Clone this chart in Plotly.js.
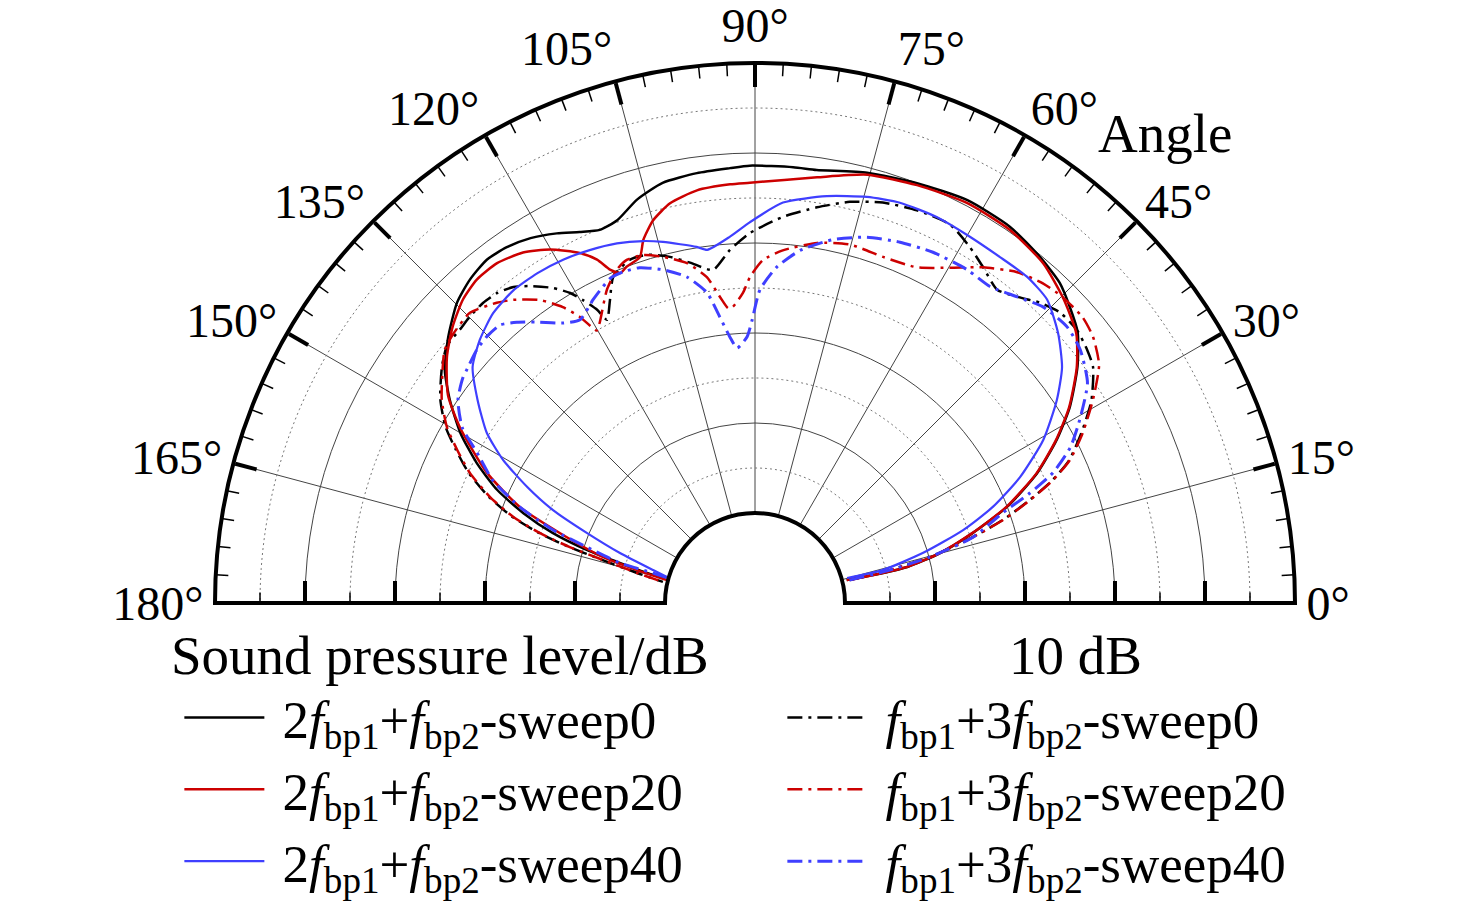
<!DOCTYPE html>
<html>
<head>
<meta charset="utf-8">
<script src="https://cdn.plot.ly/plotly-3.0.1.min.js"></script>
<style>
  html, body { margin: 0; padding: 0; background: #fff; }
  #chart { width: 1476px; height: 906px; }
</style>
</head>
<body>
<div id="chart"></div>
<script>
// directivity curves: theta in degrees, r in dB above the inner circle
const thetaSolid0 = [14.0, 13.3, 13.3, 15.1, 17.8, 20.9, 24.7, 28.4, 31.9, 36.2, 40.0, 43.2, 46.4, 50.5, 55.9, 62.2, 68.9, 75.4, 81.9, 85.0, 90.7, 93.3, 97.7, 102.4, 106.3, 109.8, 112.6, 115.3, 118.2, 121.6, 124.9, 128.0, 131.4, 134.8, 139.1, 143.1, 146.4, 150.0, 153.3, 156.3, 158.8, 160.9, 162.5, 163.5, 164.6, 164.5];
const rSolid0 = [0.5, 3.5, 7.4, 11.3, 15.4, 20.0, 24.5, 28.1, 31.2, 34.4, 36.8, 38.0, 39.1, 39.8, 40.5, 40.6, 40.0, 39.4, 38.6, 38.6, 38.6, 38.4, 38.2, 37.8, 36.7, 35.2, 34.9, 35.6, 36.6, 37.6, 38.2, 38.4, 37.9, 37.0, 35.1, 33.1, 30.7, 27.8, 24.6, 21.3, 17.6, 13.8, 9.6, 5.6, 1.8, 0.4];

const thetaSolid20 = [14.0, 13.3, 13.3, 15.1, 17.8, 20.9, 24.7, 28.4, 31.9, 36.2, 40.0, 44.8, 49.7, 55.6, 62.1, 68.8, 75.3, 81.7, 90.7, 93.4, 98.0, 102.0, 104.9, 107.1, 108.4, 110.9, 112.2, 113.5, 114.7, 116.6, 120.1, 123.5, 127.2, 130.7, 133.9, 137.6, 141.4, 145.9, 149.2, 154.1, 157.8, 160.3, 163.2, 164.4, 165.4];
const rSolid20 = [0.5, 3.4, 7.3, 11.2, 15.3, 19.9, 24.4, 28.0, 31.1, 34.3, 36.6, 38.2, 39.5, 40.2, 40.3, 39.8, 39.2, 37.8, 36.7, 36.6, 36.3, 35.4, 34.0, 32.2, 30.5, 30.0, 29.6, 30.4, 32.0, 33.5, 35.4, 36.7, 37.4, 37.4, 36.8, 35.5, 33.8, 31.2, 28.2, 23.1, 18.2, 13.0, 7.6, 3.6, 0.1];

const thetaSolid40 = [15.2, 14.5, 16.6, 19.3, 22.0, 25.4, 29.5, 33.9, 37.5, 41.7, 46.1, 50.2, 54.7, 60.1, 64.8, 70.1, 74.6, 80.0, 86.0, 90.8, 93.9, 97.7, 99.3, 104.3, 107.2, 111.0, 115.1, 119.2, 123.4, 127.7, 132.1, 136.3, 140.1, 143.8, 147.6, 150.4, 153.0, 155.3, 157.4, 159.7, 162.1, 163.5];
const rSolid40 = [0.6, 4.7, 9.5, 14.5, 18.5, 22.6, 26.8, 30.4, 33.0, 35.1, 36.8, 37.2, 37.1, 37.2, 37.4, 37.3, 36.8, 35.9, 34.6, 32.3, 30.8, 29.6, 30.1, 31.4, 32.1, 32.8, 33.3, 33.7, 33.9, 33.9, 33.4, 32.3, 30.9, 28.2, 25.3, 22.2, 18.4, 14.7, 10.2, 6.0, 1.9, 0.2];

const thetaDash0 = [13.6, 13.7, 14.7, 16.5, 18.5, 20.5, 22.4, 24.4, 27.4, 31.0, 34.9, 37.3, 40.3, 43.6, 46.5, 49.4, 52.3, 55.8, 58.9, 62.7, 67.6, 72.3, 76.7, 81.1, 85.9, 90.8, 94.1, 97.2, 100.8, 103.8, 107.2, 110.0, 113.5, 115.6, 117.6, 118.3, 119.6, 120.8, 122.7, 125.4, 127.4, 129.8, 132.2, 134.9, 137.2, 140.1, 142.9, 147.0, 150.3, 152.8, 155.5, 158.2, 160.4, 162.0, 163.2, 164.2, 165.7, 167.1];
const rDash0 = [0.8, 5.3, 10.0, 14.5, 19.0, 22.5, 25.7, 28.3, 30.8, 33.6, 35.8, 36.4, 36.9, 36.8, 36.0, 34.8, 34.0, 35.1, 36.2, 37.3, 37.2, 36.7, 35.8, 34.5, 33.0, 31.1, 29.3, 27.3, 28.5, 29.6, 30.5, 30.6, 29.5, 27.3, 25.5, 27.0, 28.7, 30.1, 31.6, 33.2, 34.2, 34.8, 35.0, 34.9, 34.7, 34.6, 33.6, 31.7, 29.6, 27.4, 25.0, 21.9, 18.7, 15.3, 11.7, 7.8, 3.6, 0.5];

const thetaDash20 = [13.6, 13.7, 14.7, 16.5, 18.5, 20.5, 22.4, 24.4, 27.4, 31.0, 34.7, 38.2, 41.1, 44.8, 48.0, 51.6, 55.8, 59.8, 64.3, 69.7, 75.1, 80.2, 85.5, 88.7, 90.9, 92.2, 94.3, 95.2, 96.5, 98.4, 101.3, 104.9, 107.8, 110.5, 112.5, 115.3, 119.0, 120.1, 121.5, 123.0, 125.4, 128.6, 130.7, 134.5, 138.5, 140.8, 142.9, 147.0, 150.3, 152.8, 155.5, 158.2, 160.4, 162.0, 163.2, 164.2, 165.7, 167.1];
const rDash20 = [0.9, 5.4, 10.1, 14.6, 19.1, 22.6, 25.8, 28.4, 31.0, 33.8, 36.5, 37.8, 38.3, 38.2, 37.8, 36.9, 35.1, 33.1, 31.4, 31.0, 31.2, 30.6, 29.3, 28.1, 26.2, 24.5, 23.0, 22.9, 24.2, 26.6, 28.5, 29.8, 30.6, 30.7, 30.1, 28.5, 25.6, 25.0, 27.3, 29.2, 31.3, 33.1, 34.0, 35.2, 34.9, 34.5, 33.5, 31.5, 29.4, 27.2, 24.8, 21.7, 18.5, 15.1, 11.5, 7.6, 3.5, 0.5];

const thetaDash40 = [13.6, 13.7, 14.7, 16.8, 20.0, 21.8, 23.6, 26.3, 29.4, 33.5, 37.9, 41.5, 45.8, 49.4, 53.4, 57.5, 63.1, 68.1, 73.0, 77.9, 82.7, 86.3, 89.1, 90.6, 91.7, 94.0, 95.4, 97.0, 98.8, 101.8, 105.4, 109.0, 111.7, 114.0, 116.3, 118.1, 121.7, 124.4, 127.8, 130.3, 132.5, 135.2, 137.7, 141.0, 142.3, 145.6, 149.1, 151.6, 154.9, 157.8, 160.1, 161.6, 163.5, 163.6, 164.0];
const rDash40 = [0.8, 5.3, 10.0, 15.3, 19.3, 22.9, 26.1, 29.1, 31.4, 34.3, 35.8, 36.3, 35.9, 34.8, 33.8, 33.9, 33.7, 33.2, 32.5, 31.3, 29.5, 27.4, 24.8, 21.4, 19.6, 18.4, 19.7, 22.0, 24.9, 27.0, 28.4, 29.4, 29.6, 29.5, 28.8, 28.2, 27.0, 27.7, 29.5, 30.9, 31.9, 32.0, 31.8, 31.2, 31.0, 30.0, 27.9, 25.1, 22.2, 18.2, 13.9, 9.7, 5.6, 1.8, 0.2];

const seriesNames = [
  '2<i>f</i><sub>bp1</sub>+<i>f</i><sub>bp2</sub>-sweep0',
  '<i>f</i><sub>bp1</sub>+3<i>f</i><sub>bp2</sub>-sweep0',
  '2<i>f</i><sub>bp1</sub>+<i>f</i><sub>bp2</sub>-sweep20',
  '<i>f</i><sub>bp1</sub>+3<i>f</i><sub>bp2</sub>-sweep20',
  '2<i>f</i><sub>bp1</sub>+<i>f</i><sub>bp2</sub>-sweep40',
  '<i>f</i><sub>bp1</sub>+3<i>f</i><sub>bp2</sub>-sweep40'
];

const majorRadii = [10, 20, 30, 40];
const minorRadii = [5, 15, 25, 35, 45];

const FONT = 'Liberation Serif, Times New Roman, serif';
const FS = 53;
const BLACK = '#000000', RED = '#cc0000', BLUE = '#3f3fff';
const DASHDOT = '15px,6px,3px,6px';

// dotted half circles between the solid grid circles
let gridTheta = [], gridR = [];
minorRadii.forEach((rv) => {
    for (let a = 0; a <= 180; a += 1) {
        gridTheta.push(a);
        gridR.push(rv);
    }
    gridTheta.push(null);
    gridR.push(null);
});

// small ticks on the outer rim every 3 degrees
let rimTheta = [], rimR = [];
for (let a = 3; a < 180; a += 3) {
    if (a % 15 === 0) continue;
    rimTheta.push(a, a, null);
    rimR.push(48.6, 50, null);
}

const curve = (theta, r, name, color, width, dash) => ({
    type: 'scatterpolar',
    mode: 'lines',
    theta: theta,
    r: r,
    name: '\u00A0' + name,
    line: { color: color, width: width, dash: dash, shape: 'spline', smoothing: 0.6 },
    hoverinfo: 'skip',
});

const data = [
    {
        type: 'scatterpolar', mode: 'lines', theta: gridTheta, r: gridR,
        line: { color: '#777', width: 1, dash: '2px,3px' },
        showlegend: false, hoverinfo: 'skip',
    },
    {
        type: 'scatterpolar', mode: 'lines', theta: rimTheta, r: rimR,
        line: { color: '#000', width: 1.5 },
        showlegend: false, hoverinfo: 'skip',
    },
    curve(thetaSolid0, rSolid0, seriesNames[0], BLACK, 2.5, 'solid'),
    curve(thetaDash0, rDash0, seriesNames[1], BLACK, 2.5, DASHDOT),
    curve(thetaSolid20, rSolid20, seriesNames[2], RED, 2.5, 'solid'),
    curve(thetaDash20, rDash20, seriesNames[3], RED, 2.5, DASHDOT),
    curve(thetaSolid40, rSolid40, seriesNames[4], BLUE, 2.2, 'solid'),
    curve(thetaDash40, rDash40, seriesNames[5], BLUE, 3, DASHDOT),
];

['polar2', 'polar3', 'polar4'].forEach((sp) => {
    data.push({ type: 'scatterpolar', subplot: sp, mode: 'lines', r: [null], theta: [null], showlegend: false, hoverinfo: 'skip' });
});

const basePolar = {
    domain: { x: [0, 1], y: [0, 1] },
    sector: [0, 180],
    hole: 1 / 6,
    bgcolor: 'rgba(0,0,0,0)',
};

const hiddenAngular = { visible: false, direction: 'counterclockwise', rotation: 0 };

const baseRadial = (angle, side, vals, len, width, line) => ({
    range: [0, 50],
    angle: angle,
    side: side,
    tickmode: 'array',
    tickvals: vals,
    ticks: 'outside',
    ticklen: len,
    tickwidth: width,
    tickcolor: '#000',
    showticklabels: false,
    showline: line,
    linewidth: 4,
    linecolor: '#000',
    showgrid: false,
});

const layout = {
    width: 1476,
    height: 906,
    margin: { l: 215, r: 181, t: 63, b: 303, autoexpand: false },
    paper_bgcolor: '#fff',
    showlegend: true,
    font: { family: FONT, size: FS, color: '#000' },
    polar: {
        ...basePolar,
        bgcolor: '#fff',
        angularaxis: {
            direction: 'counterclockwise',
            rotation: 0,
            tickmode: 'linear',
            tick0: 0,
            dtick: 15,
            ticks: 'inside',
            ticklen: 22,
            tickwidth: 4,
            tickcolor: '#000',
            showline: true,
            linewidth: 4,
            linecolor: '#000',
            showgrid: true,
            gridcolor: '#444',
            gridwidth: 1,
            tickfont: { family: FONT, size: 48, color: '#000' },
        },
        radialaxis: {
            ...baseRadial(0, 'counterclockwise', majorRadii, 20, 4, true),
            showgrid: true,
            gridcolor: '#444',
            gridwidth: 1,
        },
    },
    polar2: { ...basePolar, angularaxis: hiddenAngular, radialaxis: baseRadial(180, 'clockwise', majorRadii, 20, 4, true) },
    polar3: { ...basePolar, angularaxis: hiddenAngular, radialaxis: baseRadial(0, 'counterclockwise', minorRadii, 10, 1.5, false) },
    polar4: { ...basePolar, angularaxis: hiddenAngular, radialaxis: baseRadial(180, 'clockwise', minorRadii, 10, 1.5, false) },
    legend: {
        orientation: 'h',
        x: -0.033,
        xanchor: 'left',
        y: -0.136,
        yanchor: 'top',
        itemwidth: 80,
        entrywidth: 508,
        entrywidthmode: 'pixels',
        bgcolor: 'rgba(0,0,0,0)',
        font: { family: FONT, size: FS, color: '#000' },
    },
    annotations: [
        { text: 'Angle', xref: 'paper', yref: 'paper', x: 0.8796, y: 0.87, xanchor: 'center', yanchor: 'middle', showarrow: false, font: { family: FONT, size: 55 } },
        { text: 'Sound pressure level/dB', xref: 'paper', yref: 'paper', x: 0.2083, y: -0.0963, xanchor: 'center', yanchor: 'middle', showarrow: false, font: { family: FONT, size: 55 } },
        { text: '10 dB', xref: 'paper', yref: 'paper', x: 0.7963, y: -0.0963, xanchor: 'center', yanchor: 'middle', showarrow: false, font: { family: FONT, size: 55 } },
    ],
};

Plotly.newPlot('chart', data, layout, { staticPlot: true, displayModeBar: false });
</script>
</body>
</html>
